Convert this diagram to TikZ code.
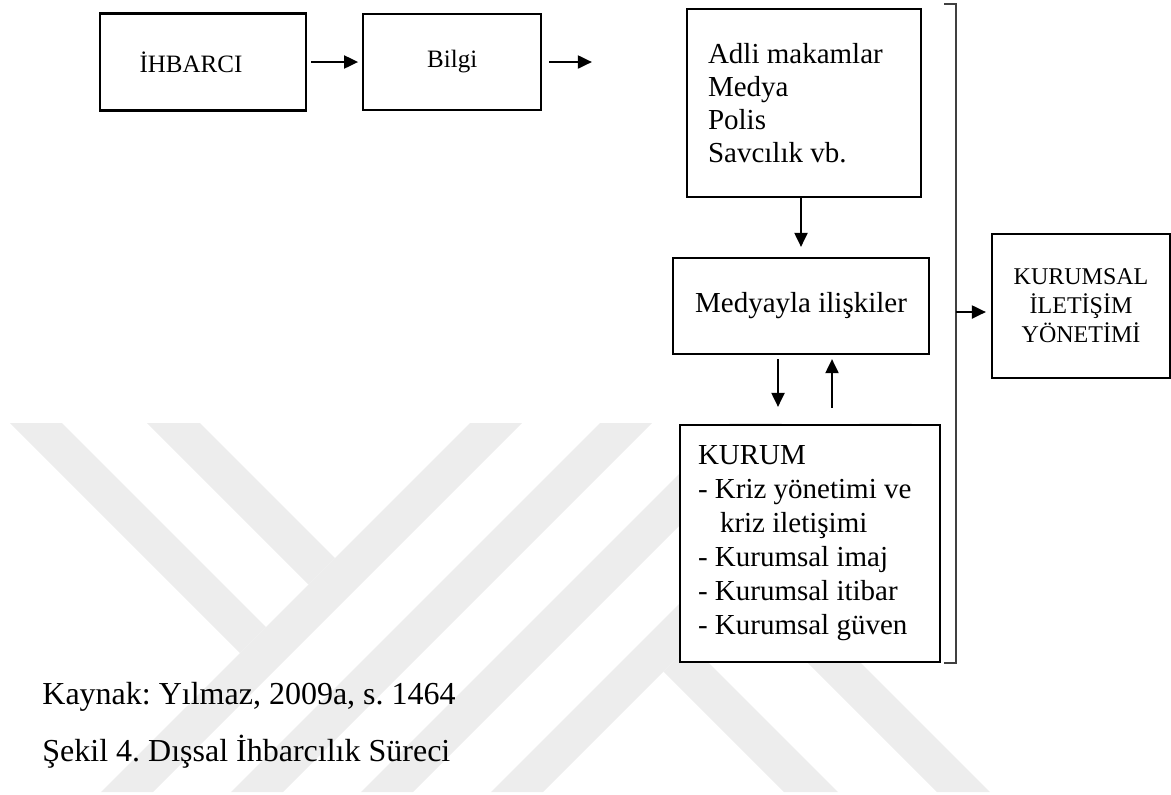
\documentclass[tikz,border=0pt]{standalone}
\usepackage{fontspec}
\setmainfont{Liberation Serif}
\usetikzlibrary{arrows.meta, positioning}
\frenchspacing
\tikzset{
  box/.style = {draw, line width=1.1pt, fill=white, inner sep=0pt},
  list/.style = {box, align=flush left, inner xsep=10pt},
  link/.style = {line width=1pt, arrows={-Triangle[length=7pt, width=6.5pt]}},
  bracket/.style = {line width=0.8pt, black!75!white},
  stripe/.style = {fill=black!7},
}

\begin{document}
\begin{tikzpicture}[x=0.5pt, y=-0.5pt]
  \useasboundingbox (0,0) rectangle (1171,794);

  % faint logo in the background
  \begin{scope}
    \clip (0,423) rectangle (1171,792);
    \foreach \c in {893, 1023, 1153, 1283}{
      \fill [stripe] (\c-423,423) -- (\c-371,423) -- (\c-740,792) -- (\c-792,792) -- cycle;
    }
    \fill [stripe] (10,423) -- (62,423) -- (266,627) -- (240,653) -- cycle;
    \fill [stripe] (147,423) -- (200,423) -- (335,558) -- (308.5,584.5) -- cycle;
    \fill [stripe] (663.5,671.5) -- (690.5,644.5) -- (838,792) -- (784,792) -- cycle;
    \fill [stripe] (740,595) -- (766.5,568.5) -- (990,792) -- (937,792) -- cycle;
  \end{scope}

  % boxes
  \node (ihbarci) [box, minimum width=103pt, minimum height=48.5pt,
    font=\fontsize{12.5}{15}\selectfont] at (203,62) {İHBARCI\hspace*{12pt}};
  \node (bilgi) [box, minimum width=89pt, minimum height=48pt,
    font=\fontsize{12.5}{15}\selectfont, right=27.5pt of ihbarci] {Bilgi};
  \node (adli) [list, text width=96pt, inner xsep=10.5pt, minimum height=94pt,
    font=\fontsize{14.5}{16.5}\selectfont] at (804,103)
    {Adli makamlar\\Medya\\Polis\\Savcılık vb.};
  \node (medya) [box, minimum width=128pt, minimum height=48pt,
    font=\fontsize{14.5}{17}\selectfont] at (801,306) {Medyayla ilişkiler};
  \node (kurum) [list, text width=112pt, inner xsep=9pt, minimum height=118.5pt,
    font=\fontsize{14.5}{17}\selectfont] at (810,543.5)
    {KURUM\\- Kriz yönetimi ve\\\hspace*{11pt}kriz iletişimi\\- Kurumsal imaj\\%
     - Kurumsal itibar\\- Kurumsal güven};
  \node (kurumsal) [box, minimum width=89pt, minimum height=72pt, align=center,
    font=\fontsize{12}{14.5}\selectfont] at (1081,306)
    {KURUMSAL\\İLETİŞİM\\YÖNETİMİ};

  % arrows
  \draw [link, shorten <=2pt, shorten >=2pt] (ihbarci) -- (bilgi);
  \draw [link, shorten <=3.5pt, shorten >=47pt] (bilgi.east) -- (bilgi.east -| adli.west);
  \draw [link, shorten >=5pt] (adli.south -| medya.north) -- (medya.north);
  \draw [link, shorten <=2pt, shorten >=8.5pt]
    ([xshift=-11.5pt]medya.south) -- ([xshift=-11.5pt]medya.south |- kurum.north);
  \draw [link, shorten <=8pt, shorten >=2pt]
    ([xshift=15.5pt]medya.south |- kurum.north) -- ([xshift=15.5pt]medya.south);

  % bracket round the right column
  \coordinate (brtop) at (956,4);
  \coordinate (brbot) at (956,663);
  \coordinate (brmid) at (956,312);
  \draw [bracket] ([xshift=-6pt]brtop) -- (brtop) -- (brbot) -- ([xshift=-6pt]brbot);
  \draw [link, shorten >=2.5pt] (brmid) -- (brmid -| kurumsal.west);

  % source and caption
  \node (kaynak) [anchor=west, inner sep=0pt, font=\fontsize{16}{19}\selectfont]
    at (42,697) {Kaynak: Yılmaz, 2009a, s. 1464};
  \node (sekil) [anchor=west, inner sep=0pt, font=\fontsize{16}{19}\selectfont]
    at (42,752) {Şekil 4. Dışsal İhbarcılık Süreci};
\end{tikzpicture}
\end{document}
